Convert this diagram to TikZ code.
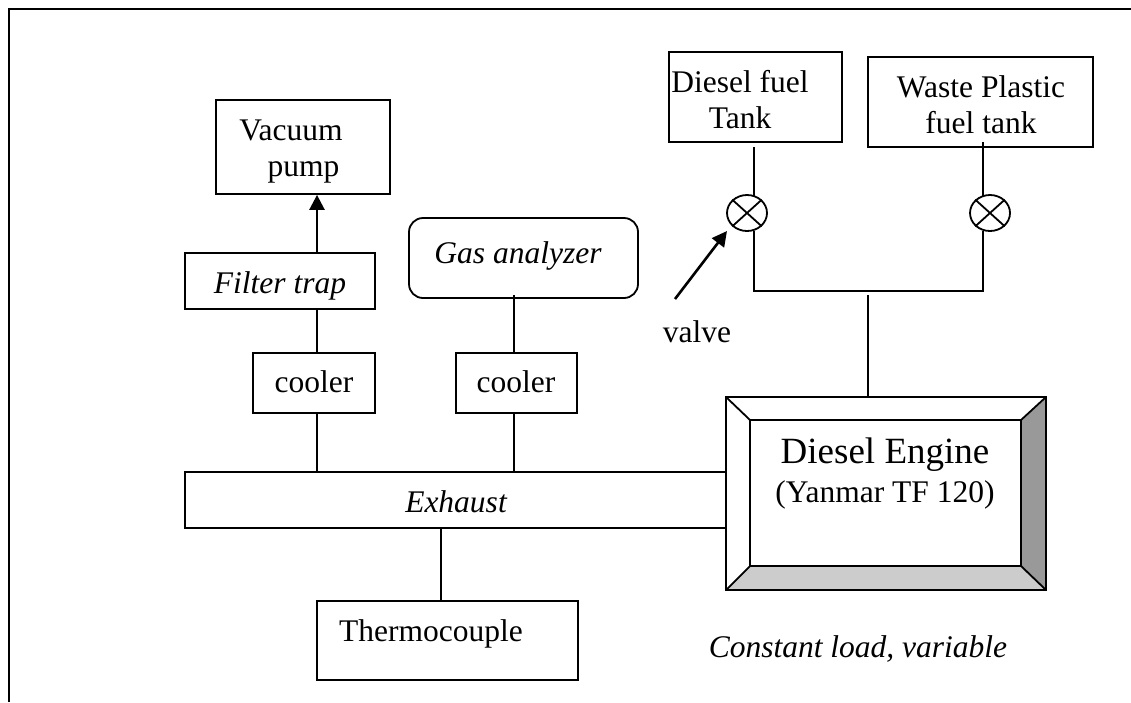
\documentclass[tikz,border=0pt]{standalone}
\usepackage{fontspec}
\setmainfont{Liberation Serif}
\usetikzlibrary{arrows.meta,shapes.misc,shapes.geometric}
\tikzset{
  every picture/.style={x=1pt,y=-1pt},
  line/.style={draw=black,line width=1.8pt},
  boxn/.style={draw=black,line width=1.8pt,rectangle,inner sep=0pt},
  lbl/.style={inner sep=0pt,anchor=base,font=\fontsize{31.5}{36}\selectfont},
  lbli/.style={lbl,font=\fontsize{31.5}{36}\selectfont\itshape},
  flow/.style={draw=black,line width=2.6pt,-{Triangle[length=15pt,width=15pt]}},
  valvec/.style={draw=black,line width=1.8pt,ellipse,inner sep=0pt,minimum width=40pt,minimum height=36pt},
}
\newcommand{\bx}[5]{\node[boxn,minimum width=#4pt-#2pt,minimum height=#5pt-#3pt] (#1) at ({(#2+#4)/2},{(#3+#5)/2}) {};}
\begin{document}
\begin{tikzpicture}
\useasboundingbox (0,0) rectangle (1131,702);
% frame
\coordinate (fa) at (9,702);
\coordinate (fb) at (9,9);
\coordinate (fc) at (1131,9);
\draw[draw=black,line width=2.5pt] (fa) -- (fb) -- (fc);
% boxes
\bx{vacuum}{216}{100}{390}{194}
\bx{filter}{185}{253}{375}{309}
\node[boxn,rounded corners=14pt,minimum width=229pt,minimum height=80pt] (gas) at (523.5,258) {};
\bx{coolerA}{253}{353}{375}{413}
\bx{coolerB}{456}{353}{577}{413}
\bx{exhaust}{185}{472}{726}{528}
\bx{thermo}{317}{601}{578}{680}
\bx{diesel}{669}{52}{842}{142}
\bx{waste}{868}{57}{1093}{147}
% engine
\coordinate (eo1) at (726,397);\coordinate (eo2) at (1046,397);
\coordinate (eo3) at (1046,590);\coordinate (eo4) at (726,590);
\coordinate (ei1) at (750,420);\coordinate (ei2) at (1021,420);
\coordinate (ei3) at (1021,566);\coordinate (ei4) at (750,566);
\fill[white] (eo1) -- (eo2) -- (eo3) -- (eo4) -- cycle;
\fill[fill=black!40] (eo2) -- (eo3) -- (ei3) -- (ei2) -- cycle;
\fill[fill=black!20] (eo3) -- (eo4) -- (ei4) -- (ei3) -- cycle;
\draw[line] (eo1) -- (eo2) -- (eo3) -- (eo4) -- cycle;
\draw[line] (ei1) -- (ei2) -- (ei3) -- (ei4) -- cycle;
\draw[line] (eo1) -- (ei1) (eo2) -- (ei2) (eo3) -- (ei3) (eo4) -- (ei4);
% valves
\node[valvec] (va) at (747,213) {};
\node[valvec] (vb) at (990,213) {};
\draw[line] (va.north west) -- (va.south east) (va.north east) -- (va.south west);
\draw[line] (vb.north west) -- (vb.south east) (vb.north east) -- (vb.south west);
% connector columns
\coordinate (xa) at (317,0);
\coordinate (xb) at (514,0);
\coordinate (xc) at (441,0);
\coordinate (xf) at (868,0);
\coordinate (ja) at (754,291);
\coordinate (jb) at (983,291);
\coordinate (jc) at (868,295);
\coordinate (ga) at (514,295);
\coordinate (da) at (754,147);
\coordinate (wa) at (983,142);
\coordinate (vd) at (754,195.5);
\coordinate (ve) at (983,195.5);
\coordinate (vf) at (754,230.5);
\coordinate (vg) at (983,230.5);
\coordinate (ar1) at (675,299);
\coordinate (ar2) at (727,231);
% connectors
\draw[flow] (xa |- filter.north) -- (xa |- vacuum.south);
\draw[line] (xa |- filter.south) -- (xa |- coolerA.north);
\draw[line] (xa |- coolerA.south) -- (xa |- exhaust.north);
\draw[line] (ga) -- (xb |- coolerB.north);
\draw[line] (xb |- coolerB.south) -- (xb |- exhaust.north);
\draw[line] (xc |- exhaust.south) -- (xc |- thermo.north);
\draw[line] (da) -- (vd);
\draw[line] (wa) -- (ve);
\draw[line] (vf) -- (ja) -- (jb) -- (vg);
\draw[line] (jc) -- (eo1 -| xf);
\draw[flow] (ar1) -- (ar2);
% labels
\node[lbl] (t1) at (291,140) {Vacuum};
\node[lbl] (t2) at (303.5,176) {pump};
\node[lbli] (t3) at (280,293) {Filter trap};
\node[lbli] (t4) at (518,263) {Gas analyzer};
\node[lbl] (t5) at (314,392) {cooler};
\node[lbl] (t6) at (516,392) {cooler};
\node[lbli] (t7) at (456,512) {Exhaust};
\node[lbl,anchor=base west] (t8) at (339,641) {Thermocouple};
\node[lbl] (t9) at (740,92) {Diesel fuel};
\node[lbl] (t10) at (740,128) {Tank};
\node[lbl] (t11) at (981,97) {Waste Plastic};
\node[lbl] (t12) at (981,133) {fuel tank};
\node[lbl,font=\fontsize{37}{40}\selectfont] (t13) at (885,463) {Diesel Engine};
\node[lbl] (t14) at (885,502) {(Yanmar TF 120)};
\node[lbli] (t15) at (858,657) {Constant load, variable};
\node[lbl] (t16) at (697,342) {valve};
\end{tikzpicture}
\end{document}
